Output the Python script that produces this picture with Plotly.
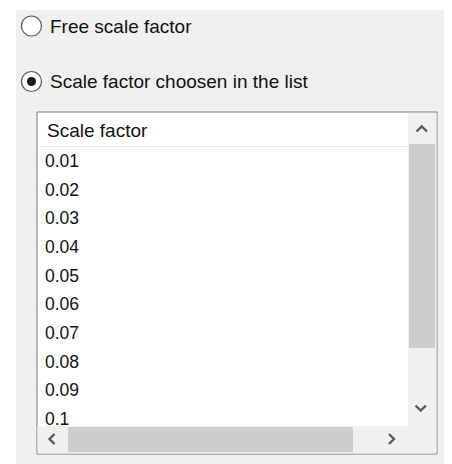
import plotly.graph_objects as go

# ---- data ----
radio_labels = ["Free scale factor", "Scale factor choosen in the list"]
radio_selected = [False, True]
column_header = "Scale factor"
scale_factors = [0.01, 0.02, 0.03, 0.04, 0.05, 0.06, 0.07, 0.08, 0.09, 0.1]
row_labels = [f"{v:g}" for v in scale_factors]
row_index = list(range(len(scale_factors)))

# ---- geometry (pixels, page coordinates) ----
W, H = 452, 464
OFF = 8                          # default page body margin
FW, FH = W - OFF, H - OFF        # figure size so the page fits the window
FONT = "Liberation Sans"
ROW0, ROWH = 162.5, 28.7         # first row centre, row height
LIST_TOP, LIST_BOT = 147, 426    # visible rows area

fig = go.Figure()
fig.add_trace(go.Scatter(x=[OFF + 1], y=[OFF + 1], mode="markers", marker=dict(size=0, opacity=0),
                         hoverinfo="skip", showlegend=False))
fig.add_trace(go.Scatter(
    x=[45] * len(row_labels), y=row_index, xaxis="x", yaxis="y2",
    mode="text", text=row_labels, textposition="middle right",
    textfont=dict(family=FONT, size=17.5, color="#111111"),
    cliponaxis=True, hoverinfo="skip", showlegend=False))

def rect(x0, y0, x1, y1, fill, line=None, lw=0):
    return dict(type="rect", xref="x", yref="y", x0=x0, y0=y0, x1=x1, y1=y1,
                fillcolor=fill, line=dict(width=lw, color=line or fill), layer="below")

def path(d, color="#5a5a5a", w=2.4):
    return dict(type="path", xref="x", yref="y", path=d,
                line=dict(color=color, width=w), layer="above")

shapes = [
    rect(16, 10, 447, 464, "#f0f0f0"),                     # panel
    rect(37, 112, 437, 454, "#ffffff", "#7a7a7a", 1),       # listbox
    dict(type="line", xref="x", yref="y", x0=38, x1=408, y0=146.5, y1=146.5,
         line=dict(color="#e8e8e8", width=1), layer="below"),
    rect(408, 113, 436.5, 426, "#f0f0f0"),                  # v scrollbar track
    rect(409, 144, 435, 348, "#cdcdcd"),                    # v thumb
    rect(37.5, 426, 436.5, 453.5, "#f0f0f0"),               # h scrollbar track
    rect(68, 427, 353, 452, "#cdcdcd"),                     # h thumb
    path("M 416.5 131.5 L 421.7 126.5 L 427 131.5"),        # up
    path("M 415.5 405.5 L 420.7 410.5 L 426 405.5"),        # down
    path("M 54.5 434 L 49.5 439 L 54.5 444"),               # left
    path("M 389 434 L 394 439 L 389 444"),                  # right
]

radio_y = [26, 81.5]
annotations = []
for lbl, sel, ry in zip(radio_labels, radio_selected, radio_y):
    shapes.append(dict(type="circle", xref="x", yref="y", x0=21.5, x1=41.5, y0=ry - 10, y1=ry + 10,
                       fillcolor="#ffffff", line=dict(color="#5a5a5a", width=1.2), layer="above"))
    if sel:
        shapes.append(dict(type="circle", xref="x", yref="y", x0=27, x1=36, y0=ry - 4.5, y1=ry + 4.5,
                           fillcolor="#1a1a1a", line=dict(width=0), layer="above"))
    annotations.append(dict(x=47.5, y=ry, xref="x", yref="y", text=lbl, showarrow=False,
                            xanchor="left", yanchor="middle",
                            font=dict(family=FONT, size=19, color="#111111")))

annotations.append(dict(x=44.5, y=130, xref="x", yref="y", text=column_header, showarrow=False,
                        xanchor="left", yanchor="middle",
                        font=dict(family=FONT, size=19, color="#111111")))

fig.update_layout(
    width=FW, height=FH, margin=dict(l=0, r=0, t=0, b=0),
    paper_bgcolor="#ffffff", plot_bgcolor="rgba(0,0,0,0)",
    xaxis=dict(range=[OFF, W], visible=False, fixedrange=True),
    yaxis=dict(range=[H, OFF], visible=False, fixedrange=True, domain=[0, 1]),
    yaxis2=dict(anchor="x", visible=False, fixedrange=True,
                domain=[1 - (LIST_BOT - OFF) / FH, 1 - (LIST_TOP - OFF) / FH],
                range=[(LIST_BOT - ROW0) / ROWH, (LIST_TOP - ROW0) / ROWH]),
    shapes=shapes, annotations=annotations, showlegend=False,
)

fig.write_html("out.html", config={"displayModeBar": False})
